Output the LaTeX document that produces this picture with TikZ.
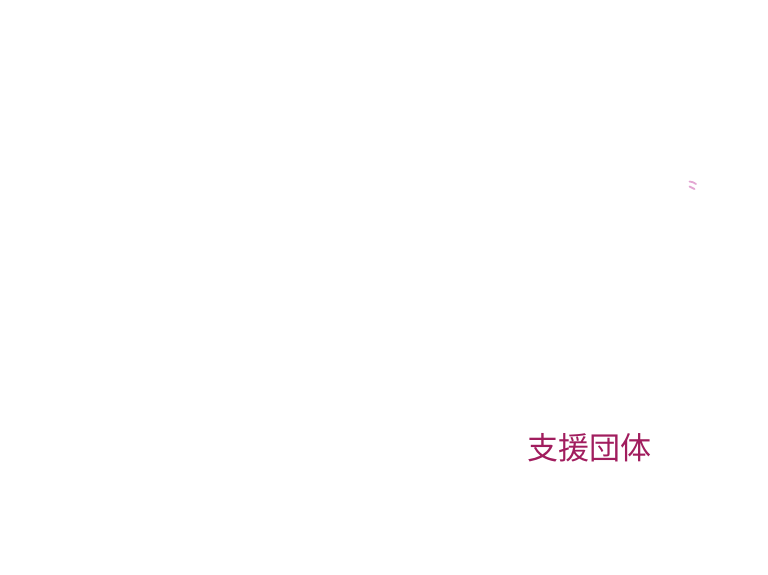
\documentclass[tikz,border=0pt]{standalone}
\usepackage{fontspec}
\newfontfamily\cjk{Noto Sans CJK JP}
\definecolor{txtmag}{HTML}{A11D5E}
\definecolor{mkpink}{HTML}{E3A6D2}
\tikzset{lbl/.style={font=\cjk\fontsize{31}{37}\selectfont, text=txtmag, inner sep=0pt},
  mark stroke/.style={draw=mkpink, line width=1.8pt, line cap=round}}
\begin{document}
\begin{tikzpicture}[x=1pt,y=-1pt]
\useasboundingbox (0,0) rectangle (768,575);
\node[lbl] (t) at (589,448) {支援団体};
\coordinate (a1) at (689.5,181.5);
\coordinate (a2) at (696,184);
\coordinate (b1) at (689.5,186.5);
\coordinate (b2) at (694.5,189);
\draw[mark stroke] (a1) to[bend left=15] (a2);
\draw[mark stroke] (b1) to[bend left=15] (b2);
\end{tikzpicture}
\end{document}
